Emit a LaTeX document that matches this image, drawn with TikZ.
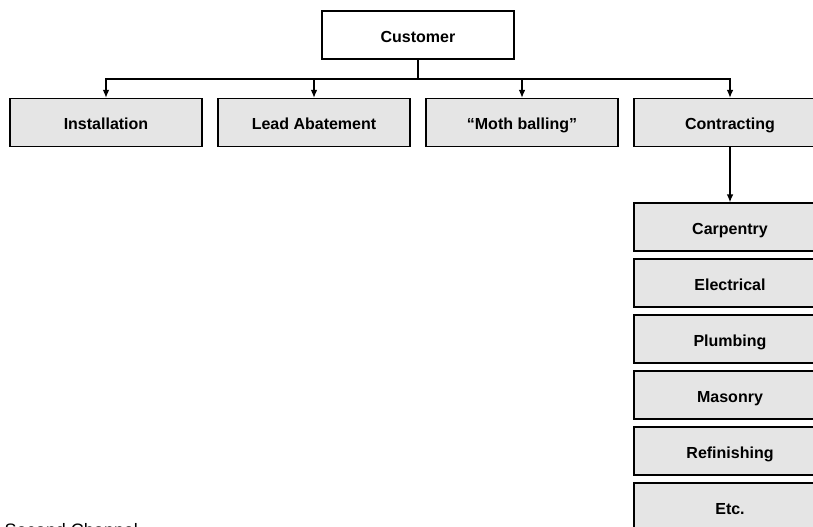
\documentclass[tikz,border=0pt]{standalone}
\usepackage{fontspec}
\setsansfont{Liberation Sans}
\usepackage{tikz}
\usetikzlibrary{arrows.meta}

\begin{document}
\begin{tikzpicture}[x=0.75pt,y=-0.75pt,->,>={Latex[length=6pt,width=5pt]},line width=1.1pt,
  box/.style={rectangle,draw=black,line width=0.9pt,minimum width=144pt,minimum height=36pt,inner sep=0pt,text height=11pt,text depth=0pt,font=\sffamily\bfseries\fontsize{12}{14}\selectfont},
  top node/.style={box,fill=white},
  unit node/.style={box,fill=gray!20}]
  \clip (0,0) rectangle (813,527);

  \node[top node] (cust) at (418,35) {Customer};

  \node[unit node] (inst) at (106,122.5) {Installation};
  \node[unit node] (lead) at (314,122.5) {Lead Abatement};
  \node[unit node] (moth) at (522,122.5) {“Moth balling”};
  \node[unit node] (cont) at (730,122.5) {Contracting};

  \node[unit node] (carp) at (730,227) {Carpentry};
  \node[unit node] (elec) at (730,283) {Electrical};
  \node[unit node] (plum) at (730,339) {Plumbing};
  \node[unit node] (mason) at (730,395) {Masonry};
  \node[unit node] (refin) at (730,451) {Refinishing};
  \node[unit node] (etc) at (730,507) {Etc.};

  \coordinate (split) at (418,79);

  \draw[-] (cust) -- (split);
  \draw (split) -| (inst);
  \draw (split) -| (lead);
  \draw (split) -| (moth);
  \draw (split) -| (cont);
  \draw (cont) -- (carp);

  \node[anchor=base west,inner sep=0pt,font=\sffamily\fontsize{13.5}{16}\selectfont] (chan) at (4,536.5) {Second Channel};
\end{tikzpicture}
\end{document}
